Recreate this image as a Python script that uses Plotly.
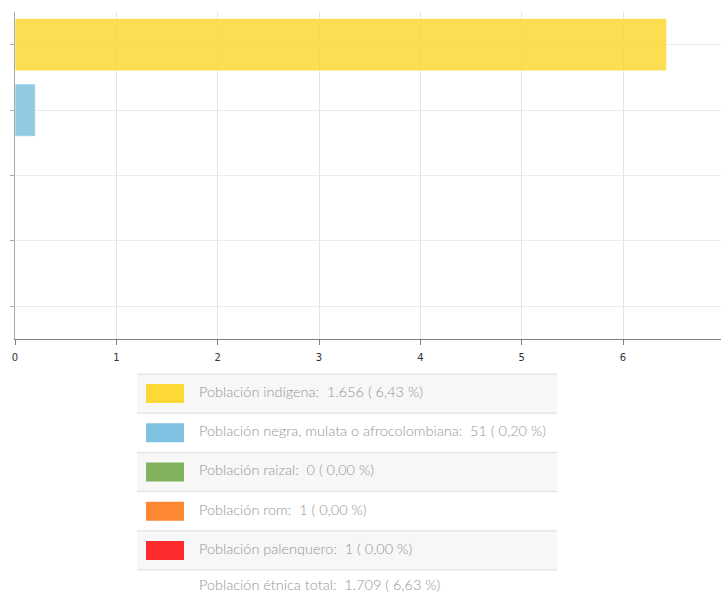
import plotly.graph_objects as go

categories = ["Población indígena", "Población negra, mulata o afrocolombiana",
              "Población raizal", "Población rom", "Población palenquero"]
percent_values = [6.43, 0.20, 0.00, 0.00, 0.00]
counts = ["1.656", "51", "0", "1", "1"]
percent_labels = ["6,43", "0,20", "0,00", "0,00", "0,00"]
bar_colors = ["#fcd934", "#7fc1e0", "#80b35c", "#fd8833", "#fe2c2c"]
total_label = "Población étnica total"
total_count = "1.709"
total_percent = "6,63"
x_ticks = [0, 1, 2, 3, 4, 5, 6]

W, H = 721, 594
L, R, T, B = 15, 0, 12, 255
pw, ph = W - L - R, H - T - B

def px(x):
    return (x - L) / pw

def py(y):
    return (H - B - y) / ph

fig = go.Figure()
fig.add_trace(go.Bar(
    y=categories, x=percent_values, orientation="h",
    marker=dict(color=bar_colors, opacity=0.85,
                line=dict(color="rgba(255,255,255,0.6)", width=1)),
    width=0.8, hoverinfo="x+y", showlegend=False,
))

shapes = []
annotations = []
row_top = 374
row_h = 39.2
tbl_l, tbl_r = 137, 557
rows = [(categories[i], counts[i], percent_labels[i], bar_colors[i]) for i in range(len(categories))]
rows.append((total_label, total_count, total_percent, None))
for i, (lab, cnt, pct, col) in enumerate(rows):
    y0 = row_top + i * row_h
    y1 = y0 + row_h
    if i % 2 == 0:
        shapes.append(dict(type="rect", xref="paper", yref="paper",
                           x0=px(tbl_l), x1=px(tbl_r), y0=py(y1), y1=py(y0),
                           fillcolor="#f7f7f7", line=dict(width=0), layer="below"))
    shapes.append(dict(type="line", xref="paper", yref="paper",
                       x0=px(tbl_l), x1=px(tbl_r), y0=py(y0), y1=py(y0),
                       line=dict(color="#dddddd", width=1)))
    yc = y0 + row_h / 2
    if col:
        shapes.append(dict(type="rect", xref="paper", yref="paper",
                           x0=px(146), x1=px(184), y0=py(yc + 9.5), y1=py(yc - 9.5),
                           fillcolor=col, line=dict(width=0)))
    ty = yc - 2 if i < len(rows) - 1 else min(yc - 2, 584)
    annotations.append(dict(
        xref="paper", yref="paper", x=px(198), y=py(ty),
        xanchor="left", yanchor="middle", showarrow=False, borderpad=0,
        text=f"{lab}:&nbsp; {cnt} ( {pct} %)",
        font=dict(family="Lato", size=14.5, weight=300, color="#959595"),
    ))

fig.update_layout(
    width=W, height=H,
    margin=dict(l=L, r=R, t=T, b=B),
    paper_bgcolor="white", plot_bgcolor="white",
    bargap=0.2,
    xaxis=dict(range=[0, 6.967], tickvals=x_ticks, ticktext=[str(v) for v in x_ticks],
               showgrid=True, gridcolor="#e3e3e3", gridwidth=1,
               showline=True, linecolor="#7f7f7f", linewidth=1,
               ticks="outside", ticklen=5, tickcolor="#7f7f7f",
               ticklabelstandoff=4,
               tickfont=dict(family="DejaVu Sans", size=10, color="#333333"),
               zeroline=False, fixedrange=True),
    yaxis=dict(autorange="reversed", type="category",
               showgrid=True, gridcolor="#ececec", gridwidth=1,
               showline=True, linecolor="#aaaaaa", linewidth=1,
               ticks="outside", ticklen=4, tickcolor="#aaaaaa",
               showticklabels=False, fixedrange=True),
    shapes=shapes,
    annotations=annotations,
)

fig.write_html("out.html")
